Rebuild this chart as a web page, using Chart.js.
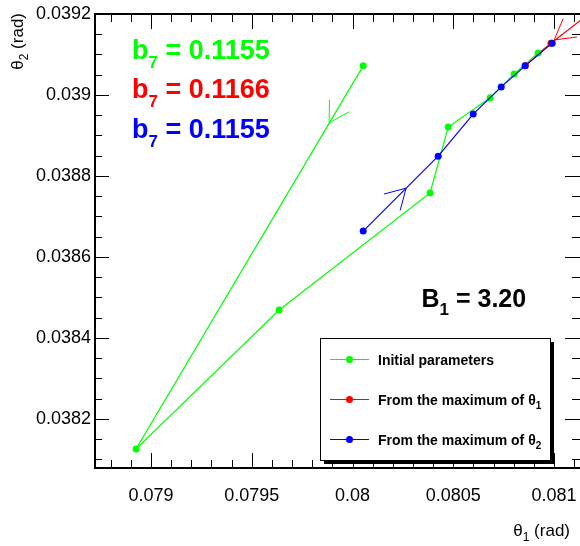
<!DOCTYPE html>
<html>
<head>
<meta charset="utf-8">
<script src="https://cdn.jsdelivr.net/npm/chart.js@4.4.0/dist/chart.umd.min.js"></script>
<style>
html, body { margin: 0; padding: 0; background: #fff; }
#wrap { width: 580px; height: 546px; }
</style>
</head>
<body>
<div id="wrap"><canvas id="chart" width="580" height="546"></canvas></div>
<script>
'use strict';

// theta1 / theta2 paths (rad)
var greenX = [0.080053, 0.078926, 0.079636, 0.080385, 0.080475, 0.080683, 0.080802, 0.080921, 0.080986];
var greenY = [0.039072, 0.038126, 0.038469, 0.038758, 0.038921, 0.038993, 0.039052, 0.039104, 0.039128];
var redX = [0.081229, 0.080985, 0.080857];
var redY = [0.039222, 0.039128, 0.039072];
var blueX = [0.080053, 0.080425, 0.080599, 0.080738, 0.080857, 0.080991];
var blueY = [0.038664, 0.038849, 0.038953, 0.039020, 0.039072, 0.039128];

// arrow tips and the point they come from (green, red, blue)
var arrowTipX = [0.079884, 0.081001, 0.080266];
var arrowTipY = [0.038931, 0.039136, 0.038770];
var arrowTailX = [0.080053, 0.081229, 0.080053];
var arrowTailY = [0.039072, 0.039222, 0.038664];

var seriesNames = ['Initial parameters', 'From the maximum of \u03b8', 'From the maximum of \u03b8'];
var seriesSubs = ['', '1', '2'];
var seriesColors = ['#00ff00', '#ff0000', '#0000ff'];
var b7Values = ['0.1155', '0.1166', '0.1155'];
var b1Value = '3.20';

var xTicks = [0.079, 0.0795, 0.08, 0.0805, 0.081];
var yTicks = [0.0382, 0.0384, 0.0386, 0.0388, 0.039, 0.0392];
var xMin = 0.078722, xMax = 0.081129, xMinor = 0.0001;
var yMin = 0.038079, yMax = 0.0392, yMinor = 0.00005;

var FONT = '"Liberation Sans", Arial, Helvetica, sans-serif';

function pts(xs, ys) {
  var out = [];
  for (var i = 0; i < xs.length; i++) {
    out.push({x: xs[i], y: ys[i]});
  }
  return out;
}

function fmt(v) {
  return String(parseFloat(v.toFixed(6)));
}

// draws text with an optional subscript, returns width
function richText(ctx, parts, x, y, size, bold, subSize, subDrop, measureOnly) {
  var w = 0;
  for (var i = 0; i < parts.length; i++) {
    var sub = parts[i][1];
    var s = sub ? subSize : size;
    ctx.font = (bold ? 'bold ' : '') + s + 'px ' + FONT;
    if (!measureOnly) ctx.fillText(parts[i][0], x + w, y + (sub ? subDrop : 0));
    w += ctx.measureText(parts[i][0]).width;
  }
  return w;
}

var rootStyle = {
  id: 'rootStyle',
  afterDraw: function(chart) {
    var ctx = chart.ctx;
    var xs = chart.scales.x, ys = chart.scales.y;
    var a = chart.chartArea;
    ctx.save();

    // arrows
    ctx.lineWidth = 1;
    for (var k = 0; k < arrowTipX.length; k++) {
      var px = xs.getPixelForValue(arrowTipX[k]), py = ys.getPixelForValue(arrowTipY[k]);
      var qx = xs.getPixelForValue(arrowTailX[k]), qy = ys.getPixelForValue(arrowTailY[k]);
      var dx = qx - px, dy = qy - py;
      var len = Math.sqrt(dx * dx + dy * dy);
      dx /= len; dy /= len;
      ctx.strokeStyle = seriesColors[k];
      ctx.beginPath();
      [-Math.PI / 6, Math.PI / 6].forEach(function(ang) {
        var c = Math.cos(ang), s = Math.sin(ang);
        ctx.moveTo(px, py);
        ctx.lineTo(px + 23 * (dx * c - dy * s), py + 23 * (dx * s + dy * c));
      });
      ctx.stroke();
    }

    // frame
    ctx.strokeStyle = '#000';
    ctx.lineWidth = 2;
    ctx.beginPath();
    ctx.moveTo(a.right, a.top);
    ctx.lineTo(a.left, a.top);
    ctx.lineTo(a.left, a.bottom);
    ctx.lineTo(a.right, a.bottom);
    ctx.stroke();

    // inner ticks on all sides
    ctx.lineWidth = 1;
    ctx.beginPath();
    var v, p, major;
    for (v = Math.ceil(xMin / xMinor) * xMinor; v <= xMax; v += xMinor) {
      p = Math.round(xs.getPixelForValue(v)) + 0.5;
      major = xTicks.some(function(t) { return Math.abs(t - v) < 1e-9; });
      var lx = major ? 15 : 8;
      ctx.moveTo(p, a.bottom); ctx.lineTo(p, a.bottom - lx);
      ctx.moveTo(p, a.top); ctx.lineTo(p, a.top + lx);
    }
    for (v = Math.ceil(yMin / yMinor) * yMinor; v <= yMax + 1e-9; v += yMinor) {
      p = Math.round(ys.getPixelForValue(v)) + 0.5;
      major = yTicks.some(function(t) { return Math.abs(t - v) < 1e-9; });
      var ly = major ? 14 : 7;
      ctx.moveTo(a.left, p); ctx.lineTo(a.left + ly, p);
      ctx.moveTo(a.right, p); ctx.lineTo(a.right - (major ? 15 : 8), p);
    }
    ctx.stroke();

    // axis titles
    ctx.fillStyle = '#000';
    ctx.textBaseline = 'alphabetic';
    var xt = [['\u03b8', false], ['1', true], [' (rad)', false]];
    var wx = richText(ctx, xt, 0, 0, 17, false, 12, 5, true);
    richText(ctx, xt, 570 - wx, 536, 17, false, 12, 5);
    var yt = [['\u03b8', false], ['2', true], [' (rad)', false]];
    var wy = richText(ctx, yt, 0, 0, 17, false, 12, 5, true);
    ctx.save();
    ctx.translate(22.5, 13);
    ctx.rotate(-Math.PI / 2);
    richText(ctx, yt, -wy, 0, 17, false, 12, 5);
    ctx.restore();

    // b7 values
    for (k = 0; k < b7Values.length; k++) {
      ctx.fillStyle = seriesColors[k];
      richText(ctx, [['b', false], ['7', true], [' = ' + b7Values[k], false]],
        132, 58.5 + k * 39.7, 27, true, 17, 9);
    }
    ctx.fillStyle = '#000';
    richText(ctx, [['B', false], ['1', true], [' = ' + b1Value, false]], 421.5, 307, 25, true, 17, 8);

    // legend box with shadow
    var bx = 320, by = 338, bw = 230, bh = 122;
    ctx.fillStyle = '#000';
    ctx.fillRect(bx + 4, by + 4, bw, bh);
    ctx.fillStyle = '#fff';
    ctx.fillRect(bx, by, bw, bh);
    ctx.strokeStyle = '#000';
    ctx.lineWidth = 1;
    ctx.strokeRect(bx + 0.5, by + 0.5, bw, bh);
    for (k = 0; k < seriesNames.length; k++) {
      var ey = 359.5 + k * 40;
      ctx.strokeStyle = seriesColors[k];
      ctx.beginPath();
      ctx.moveTo(330, ey); ctx.lineTo(369, ey);
      ctx.stroke();
      ctx.fillStyle = seriesColors[k];
      ctx.beginPath();
      ctx.arc(349.5, ey, 3.5, 0, Math.PI * 2);
      ctx.fill();
      ctx.fillStyle = '#000';
      var parts = [[seriesNames[k], false]];
      if (seriesSubs[k]) parts.push([seriesSubs[k], true]);
      richText(ctx, parts, 378, ey + 5, 14, true, 10, 4);
    }
    ctx.restore();
  }
};

function makeSet(i, xs, ys, order) {
  return {
    label: seriesNames[i] + seriesSubs[i],
    data: pts(xs, ys),
    showLine: true,
    borderColor: seriesColors[i],
    backgroundColor: seriesColors[i],
    borderWidth: 1.2,
    pointRadius: 3.5,
    pointBorderWidth: 0,
    pointHoverRadius: 3.5,
    order: order
  };
}

var ctx = document.getElementById('chart').getContext('2d');
var chart = new Chart(ctx, {
  type: 'scatter',
  data: {
    datasets: [
      makeSet(0, greenX, greenY, 2),
      makeSet(1, redX, redY, 1),
      makeSet(2, blueX, blueY, 0)
    ]
  },
  options: {
    responsive: false,
    animation: false,
    devicePixelRatio: 1,
    layout: { autoPadding: false, padding: { top: 14, right: 0, left: 0, bottom: 0 } },
    plugins: { legend: { display: false }, tooltip: { enabled: false } },
    scales: {
      x: {
        type: 'linear',
        min: xMin,
        max: xMax,
        afterBuildTicks: function(axis) { axis.ticks = xTicks.map(function(v) { return {value: v}; }); },
        afterFit: function(axis) {
          axis.height = 78;
          axis.paddingLeft = 0;
          axis.paddingRight = 0;
        },
        grid: { display: false, drawTicks: false },
        border: { display: false },
        ticks: {
          color: '#000',
          padding: 17,
          maxRotation: 0,
          autoSkip: false,
          font: { family: FONT, size: 18 },
          callback: function(v) { return fmt(v); }
        }
      },
      y: {
        type: 'linear',
        min: yMin,
        max: yMax,
        afterBuildTicks: function(axis) { axis.ticks = yTicks.map(function(v) { return {value: v}; }); },
        afterFit: function(axis) {
          axis.width = 95;
          axis.paddingTop = 0;
          axis.paddingBottom = 0;
        },
        grid: { display: false, drawTicks: false },
        border: { display: false },
        ticks: {
          color: '#000',
          padding: 4,
          autoSkip: false,
          font: { family: FONT, size: 18 },
          callback: function(v) { return fmt(v); }
        }
      }
    }
  },
  plugins: [rootStyle]
});
</script>
</body>
</html>
